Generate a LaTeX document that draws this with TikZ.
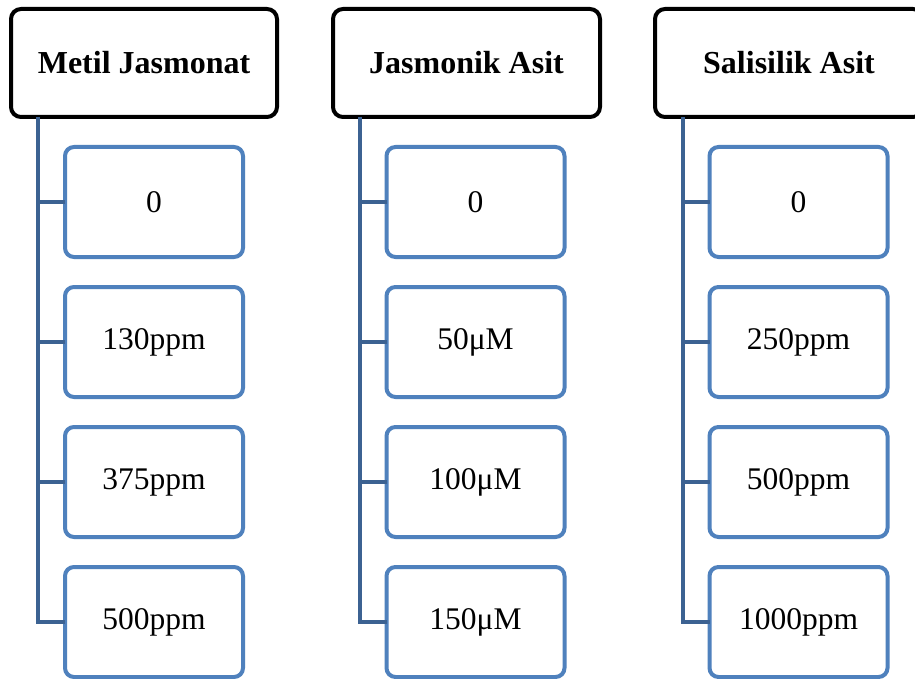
\documentclass[tikz,border=0pt]{standalone}
\usepackage{fontspec}
\setmainfont{Liberation Serif}
\definecolor{childblue}{RGB}{79,129,189}
\definecolor{connblue}{RGB}{60,98,146}
\tikzset{
  headbox/.style={draw=black, line width=4pt, rounded corners=10pt, fill=white,
    minimum width=266pt, minimum height=108pt, inner sep=0pt, outer sep=0pt,
    font=\fontsize{32}{38}\selectfont\bfseries},
  childbox/.style={draw=childblue, line width=4pt, rounded corners=9pt, fill=white,
    minimum width=178pt, minimum height=110pt, inner sep=0pt, outer sep=0pt,
    font=\fontsize{31.5}{37}\selectfont},
  conn/.style={draw=connblue, line width=4.5pt}
}
\begin{document}
\begin{tikzpicture}[x=1pt,y=-1pt]
\clip (0,0) rectangle (915,679);
\fill[white] (0,0) rectangle (915,679);
% headers
\node[headbox] (h1) at (144,63) {Metil Jasmonat};
\node[headbox, minimum width=267pt] (h2) at (466.5,63) {Jasmonik Asit};
\node[headbox, minimum width=268pt] (h3) at (789,63) {Salisilik Asit};
% trunk starts
\coordinate (s1) at (38,117);
\coordinate (s2) at (360,117);
\coordinate (s3) at (683,117);
% column 1
\node[childbox] (c11) at (154,202) {0};
\node[childbox] (c12) at (154,342) {130ppm};
\node[childbox] (c13) at (154,482) {375ppm};
\node[childbox] (c14) at (154,622) {500ppm};
% column 2
\node[childbox] (c21) at (475.5,202) {0};
\node[childbox] (c22) at (475.5,342) {50μM};
\node[childbox] (c23) at (475.5,482) {100μM};
\node[childbox] (c24) at (475.5,622) {150μM};
% column 3
\node[childbox] (c31) at (798.5,202) {0};
\node[childbox] (c32) at (798.5,342) {250ppm};
\node[childbox] (c33) at (798.5,482) {500ppm};
\node[childbox] (c34) at (798.5,622) {1000ppm};
% connectors
\foreach \c in {1,2,3}{
  \draw[conn] (s\c) |- (c\c4.west);
  \foreach \k in {1,2,3}{
    \draw[conn] (c\c\k.west) -- (c\c\k.west -| s\c);
  }
}
\end{tikzpicture}
\end{document}
